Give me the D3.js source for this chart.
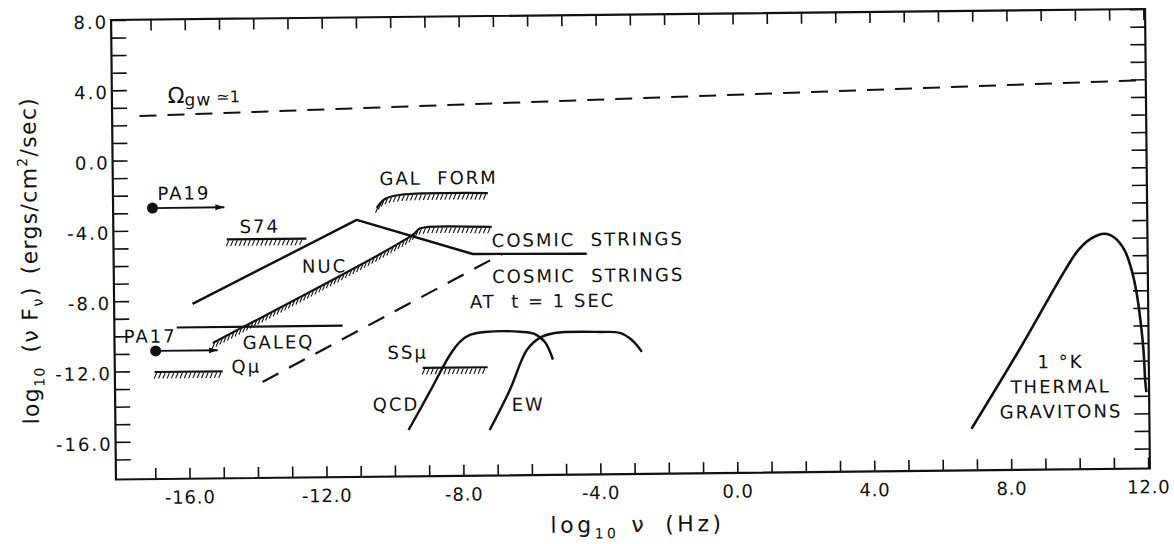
<!DOCTYPE html>
<html>
<head>
<meta charset="utf-8">
<script src="https://cdn.jsdelivr.net/npm/d3@7"></script>
<style>
  body { margin: 0; background: #fff; }
  svg { display: block; }
  text { font-family: "DejaVu Sans", sans-serif; fill: #111; white-space: pre; }
</style>
</head>
<body>
<div id="chart"></div>
<script>
// Tick values (every unit, labels every 4)
const xTicks = d3.range(-17, 13);
const yTicks = d3.range(-17, 9);
const xLabelTicks = [-16, -12, -8, -4, 0, 4, 8, 12];
const yLabelTicks = [8, 4, 0, -4, -8, -12, -16];

// Series, [log10 nu, log10 nuF_nu]
const omegaLine = [[-17.35, 2.52], [11.9, 3.95]];
const pa19 = [[-17.0, -2.72], [-14.9, -2.72]];
const pa17 = [[-16.95, -10.85], [-15.14, -10.85]];
const s74Bound = [[-14.84, -4.55], [-12.51, -4.55]];
const qmuBound = [[-16.99, -12.05], [-15.0, -12.05]];
const ssmuBound = [[-9.16, -11.98], [-7.26, -11.98]];
const galeqLine = [[-16.33, -9.53], [-11.48, -9.53]];
const nucLine = [[-15.86, -8.2], [-11.04, -3.52], [-7.66, -5.53], [-4.33, -5.58]];
const galeqBound = [[-15.28, -10.43], [-9.41, -4.41], [-9.2, -4.05], [-8.95, -3.96], [-7.1, -4.0]];
const galFormBound = [[-10.45, -2.85], [-10.21, -2.35], [-9.78, -2.13], [-7.2, -2.07]];
const stringsAt1s = [[-13.84, -12.68], [-6.81, -5.55]];
const qcdCurve = [[-9.59, -15.5], [-8.96, -13.35], [-8.36, -11.26], [-8.07, -10.53], [-7.77, -10.13],
    [-7.33, -9.97], [-6.31, -9.98], [-5.87, -10.12], [-5.58, -10.58], [-5.35, -11.58]];
const ewCurve = [[-7.22, -15.55], [-6.62, -13.29], [-6.11, -11.02], [-5.73, -10.34], [-5.29, -10.07],
    [-3.97, -10.04], [-3.39, -10.11], [-3.04, -10.52], [-2.75, -11.2]];
const gravitonCurve = [[6.85, -15.78], [8.26, -11.35], [9.63, -6.82], [10.02, -5.69], [10.4, -5.03],
    [10.8, -4.76], [11.09, -4.99], [11.38, -5.72], [11.58, -6.86], [11.72, -8.19], [11.82, -9.72],
    [11.9, -11.43], [11.94, -13.14], [11.97, -13.8]];

// Text annotations, placed in data units
const annotations = [
    ["PA19", -16.85, -2.26], ["S74", -14.46, -4.19], ["NUC", -12.65, -6.5],
    ["GAL  FORM", -10.36, -1.55], ["COSMIC  STRINGS", -7.1, -5.14],
    ["COSMIC  STRINGS", -7.1, -7.19], ["AT  t = 1 SEC", -7.76, -8.61],
    ["PA17", -17.88, -10.38], ["GALEQ", -14.41, -10.79], ["Qμ", -14.74, -12.15],
    ["SSμ", -10.18, -11.45], ["QCD", -10.63, -14.4], ["EW", -6.57, -14.48]
];
const gravitonLabel = [["1 °K", -12.37], ["THERMAL", -13.79], ["GRAVITONS", -15.21]];
const gravitonLabelX = 9.47;

const [w, h] = [1174, 544];
const [plotLeft, plotRight, plotTop, plotBottom] = [113.5, 1147.5, 14.5, 474];
const tilt = -0.61; // the scanned figure is slightly rotated
const ink = "#111";

const x = d3.scaleLinear().domain([-18.15, 12.05]).range([plotLeft, plotRight]);
const y = d3.scaleLinear().domain([-18.14, 8]).range([plotBottom, plotTop]);

const svg = d3.select("#chart")
    .append("svg")
    .attr("width", w)
    .attr("height", h)
    .style("background-color", "white");

svg.append("defs")
    .append("marker")
    .attr("id", "arrow")
    .attr("markerUnits", "userSpaceOnUse")
    .attr("markerWidth", 10)
    .attr("markerHeight", 8)
    .attr("refX", 9)
    .attr("refY", 4)
    .attr("orient", "auto")
    .append("path")
    .attr("d", "M0,1 L9,4 L0,7 z")
    .attr("fill", ink);

const g = svg.append("g")
    .attr("transform", `rotate(${tilt}, ${(plotLeft + plotRight) / 2}, ${(plotTop + plotBottom) / 2})`);

// Axes, ticks pointing inwards
const fmt = d => xLabelTicks.includes(d) ? d.toFixed(1) : "";
const fmtY = d => yLabelTicks.includes(d) ? d.toFixed(1) : "";

function styleAxis(sel) {
    sel.select(".domain").remove();
    sel.selectAll("line").attr("stroke", ink).attr("stroke-width", 1.6);
    sel.selectAll("text")
        .attr("fill", ink)
        .style("font-family", "DejaVu Sans")
        .style("font-size", "18px");
}

g.append("g")
    .attr("transform", `translate(0, ${plotBottom})`)
    .call(d3.axisBottom(x).tickValues(xTicks).tickSize(-11).tickPadding(12).tickFormat(fmt))
    .call(styleAxis)
    .selectAll("text").style("letter-spacing", "0.8px");

g.append("g")
    .attr("transform", `translate(0, ${plotTop})`)
    .call(d3.axisTop(x).tickValues(xTicks).tickSize(-11).tickFormat(""))
    .call(styleAxis);

g.append("g")
    .attr("transform", `translate(${plotLeft}, 0)`)
    .call(d3.axisLeft(y).tickValues(yTicks).tickSize(-15).tickPadding(3).tickFormat(fmtY))
    .call(styleAxis)
    .selectAll("text").attr("dy", "0.45em").style("letter-spacing", "2px");

g.append("g")
    .attr("transform", `translate(${plotRight}, 0)`)
    .call(d3.axisRight(y).tickValues(yTicks).tickSize(-15).tickFormat(""))
    .call(styleAxis);

// Frame
g.append("rect")
    .attr("x", plotLeft)
    .attr("y", plotTop)
    .attr("width", plotRight - plotLeft)
    .attr("height", plotBottom - plotTop)
    .attr("fill", "none")
    .attr("stroke", ink)
    .attr("stroke-width", 2.2);

const line = d3.line().x(d => x(d[0])).y(d => y(d[1]));
const smooth = d3.line().x(d => x(d[0])).y(d => y(d[1])).curve(d3.curveCatmullRom.alpha(0.5));

function drawLine(data, gen, width, dash) {
    return g.append("path")
        .datum(data)
        .attr("d", gen)
        .attr("fill", "none")
        .attr("stroke", ink)
        .attr("stroke-width", width)
        .attr("stroke-linejoin", "round")
        .attr("stroke-dasharray", dash || null);
}

// Short slanted strokes under a bound
function hatch(path) {
    const node = path.node();
    const len = node.getTotalLength();
    const pts = d3.range(2, len - 1, 4.3).map(l => node.getPointAtLength(l));
    g.append("g")
        .selectAll("line")
        .data(pts)
        .join("line")
        .attr("x1", p => p.x)
        .attr("y1", p => p.y + 1)
        .attr("x2", p => p.x - 2.4)
        .attr("y2", p => p.y + 6.5)
        .attr("stroke", ink)
        .attr("stroke-width", 1.1);
}

drawLine(omegaLine, line, 2, "17 11");
drawLine(stringsAt1s, line, 2.2, "18 12");
drawLine(nucLine, line, 2.4);
drawLine(galeqLine, line, 2.2);
hatch(drawLine(galeqBound, smooth, 2.2));
hatch(drawLine(galFormBound, smooth, 2.2));
hatch(drawLine(s74Bound, line, 2.2));
hatch(drawLine(qmuBound, line, 2.2));
hatch(drawLine(ssmuBound, line, 2.2));
drawLine(qcdCurve, smooth, 2.4);
drawLine(ewCurve, smooth, 2.4);
drawLine(gravitonCurve, smooth, 2.6);

// Pulsar limits with arrows
[pa19, pa17].forEach(d => {
    drawLine(d, line, 1.8).attr("marker-end", "url(#arrow)");
    g.append("circle")
        .attr("cx", x(d[0][0]))
        .attr("cy", y(d[0][1]))
        .attr("r", 5.5)
        .attr("fill", ink);
});

// Labels
g.selectAll("text.note")
    .data(annotations)
    .join("text")
    .attr("class", "note")
    .attr("x", d => x(d[1]))
    .attr("y", d => y(d[2]))
    .style("font-size", "18px")
    .style("letter-spacing", "2px")
    .text(d => d[0]);

g.selectAll("text.grav")
    .data(gravitonLabel)
    .join("text")
    .attr("class", "grav")
    .attr("x", x(gravitonLabelX))
    .attr("y", d => y(d[1]))
    .attr("text-anchor", "middle")
    .style("font-size", "18px")
    .style("letter-spacing", "2px")
    .text(d => d[0]);

// Omega_gw label
const om = g.append("text")
    .attr("x", x(-16.52))
    .attr("y", y(3.25))
    .style("font-size", "22px");
om.append("tspan").text("Ω");
om.append("tspan").attr("dy", 3).style("font-size", "17px").style("letter-spacing", "1px").text("gw");
om.append("tspan").attr("dy", -3).style("font-size", "16px").text(" ≃1");

// Axis titles
function rich(sel, parts) {
    parts.forEach(p => {
        sel.append("tspan")
            .attr("dy", p[1] || 0)
            .attr("dx", p[3] || 0)
            .style("font-size", p[2] || null)
            .text(p[0]);
    });
}

const xTitle = g.append("text")
    .attr("x", (plotLeft + plotRight) / 2 + 4)
    .attr("y", plotBottom + 58)
    .attr("text-anchor", "middle")
    .style("font-size", "22px")
    .style("letter-spacing", "3.5px");
rich(xTitle, [["log"], ["10", 6, "14px"], ["ν", -6, null, 12], ["(Hz)", 0, null, 18]]);

const yTitle = g.append("text")
    .attr("transform", `translate(37, ${(plotTop + plotBottom) / 2 + 10}) rotate(-90)`)
    .attr("text-anchor", "middle")
    .style("font-size", "22px")
    .style("letter-spacing", "1.3px");
rich(yTitle, [["log"], ["10", 6, "14px"], ["(ν F", -6, null, 14], ["ν", 5, "15px"],
    [")", -5, null, 1], ["(ergs/cm", 0, null, 12], ["2", -9, "14px"], ["/sec)", 9]]);
</script>
</body>
</html>
